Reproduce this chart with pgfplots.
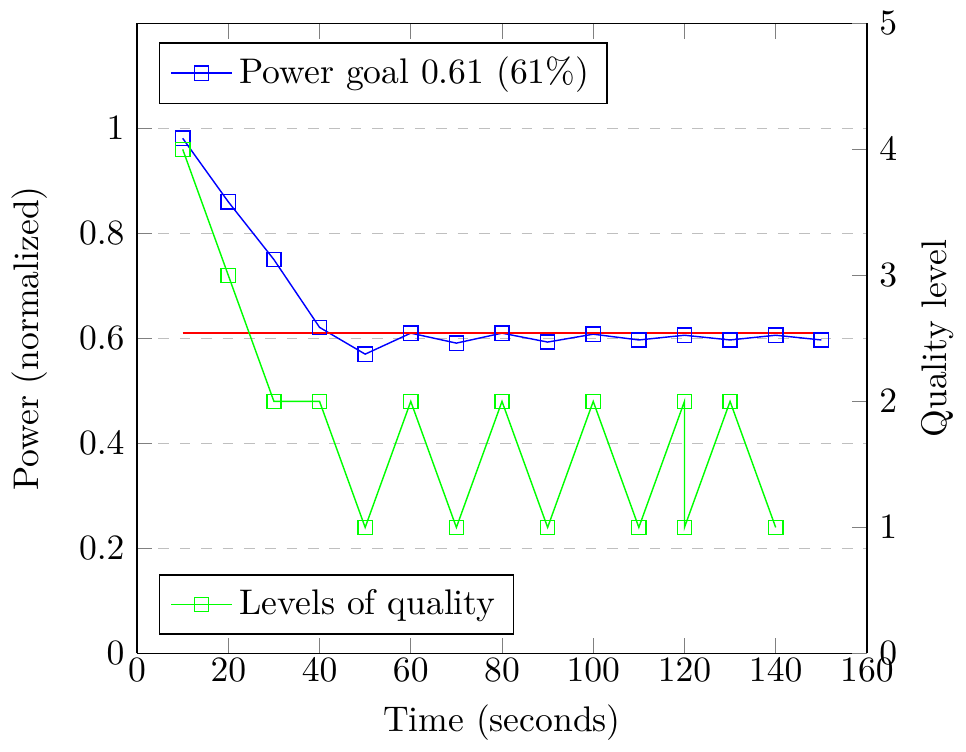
\documentclass[border=0pt]{standalone}
\usepackage{pgfplots}
\pgfplotsset{compat=1.18}
\begin{document}
\begin{tikzpicture}
\begin{axis}[
  scale only axis, width=205pt, height=177pt,
  xmin=0, xmax=160, ymin=0, ymax=1.2,
  axis y line*=left,
  ytick={0,0.2,0.4,0.6,0.8,1},
  xlabel={Time (seconds)}, ylabel={Power (normalized)},
  xticklabel style={yshift=2pt},
  xlabel style={yshift=0.5pt},
  ylabel style={yshift=2pt},
  ymajorgrids, major grid style={dashed, gray!50},
  legend pos=north west, legend cell align=left,
]
\addplot[color=blue, mark=square] coordinates {
(10,0.981)(20,0.860)(30,0.750)(40,0.621)(50,0.570)(60,0.610)(70,0.591)(80,0.610)(90,0.593)(100,0.608)(110,0.597)(120,0.606)(130,0.597)(140,0.606)(150,0.597)};
\addlegendentry{Power goal 0.61 (61\%)}
\addplot[color=red, forget plot] coordinates {(10,0.61)(150,0.61)};
\end{axis}
\begin{axis}[
  scale only axis, width=205pt, height=177pt,
  xmin=0, xmax=160, ymin=0, ymax=5,
  axis y line*=right, axis x line=none,
  ytick={0,1,2,3,4,5},
  ylabel={Quality level},
  legend pos=south west, legend cell align=left,
]
\addplot[color=green, mark=square] coordinates {
(10,4)(20,3)(30,2)(40,2)(50,1)(60,2)(70,1)(80,2)(90,1)(100,2)(110,1)(120,2)(120,1)(130,2)(140,1)};
\addlegendentry{Levels of quality}
\end{axis}
\end{tikzpicture}
\end{document}
